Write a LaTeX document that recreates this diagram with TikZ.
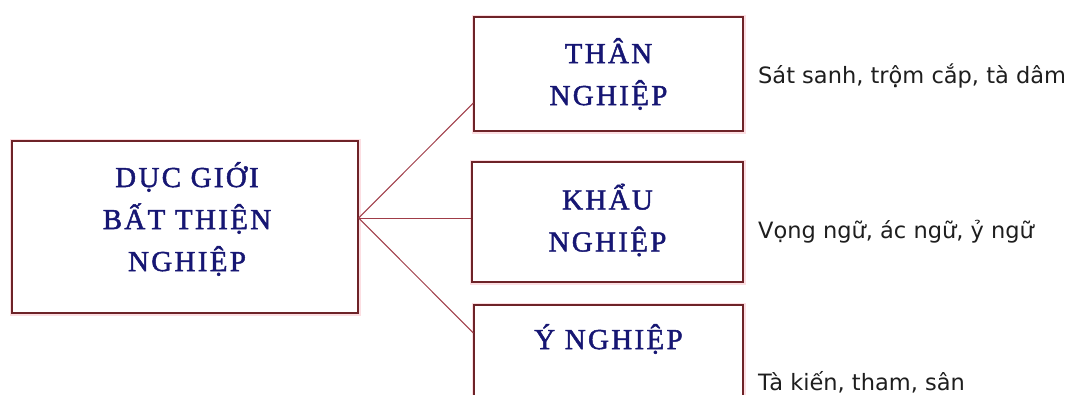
\documentclass[tikz,border=0pt]{standalone}
\usepackage{fontspec}
\setmainfont{Liberation Serif}
\newfontfamily\sidefont{DejaVu Sans}
\definecolor{boxline}{RGB}{110,35,40}
\definecolor{glow}{RGB}{252,222,226}
\definecolor{connc}{RGB}{160,60,72}
\definecolor{navy}{RGB}{22,22,115}
\definecolor{sidetext}{RGB}{30,30,30}
\newcommand\bxfont{\fontsize{29}{42}\selectfont\addfontfeatures{LetterSpace=8,FakeBold=1.6}}
\begin{document}
\begin{tikzpicture}[x=1pt,y=-1pt,
  box/.style={draw=boxline, line width=1.3pt, fill=white,
    preaction={draw=glow, line width=5pt}, inner sep=0pt},
  boxtext/.style={inner sep=0pt, align=center, font=\bxfont, text=navy},
  connector/.style={draw=connc, line width=1pt},
  side/.style={anchor=base west, inner sep=0pt,
    font=\sidefont\fontsize{22.5}{26}\selectfont, text=sidetext}]
\useasboundingbox (0,0) rectangle (1076,394);
\clip (0,0) rectangle (1076,394);
\fill[white] (0,0) rectangle (1076,394);

\node[box, minimum width=346, minimum height=172] (L) at (185,227) {};
\node[boxtext] (Lt) at (187,219) {DỤC GIỚI\\BẤT THIỆN\\NGHIỆP};
\node[box, minimum width=269, minimum height=114] (T) at (608.5,74) {};
\node[boxtext] (Tt) at (608.5,74) {THÂN\\NGHIỆP};
\node[box, minimum width=271, minimum height=120] (M) at (607.5,222) {};
\node[boxtext] (Mt) at (607.5,220) {KHẨU\\NGHIỆP};
\node[box, minimum width=269, minimum height=150] (B) at (608.5,380) {};
\node[boxtext] (Bt) at (608.5,339) {Ý NGHIỆP};

\draw[connector] ([yshift=9pt]L.east) -- ([yshift=-29pt]T.west);
\draw[connector] ([yshift=9pt]L.east) -- ([yshift=4pt]M.west);
\draw[connector] ([yshift=9pt]L.east) -- ([yshift=47pt]B.west);

\node[side] (s1) at (758,83) {Sát sanh, trộm cắp, tà dâm};
\node[side] (s2) at (758,238) {Vọng ngữ, ác ngữ, ỷ ngữ};
\node[side] (s3) at (758,390) {Tà kiến, tham, sân};
\end{tikzpicture}
\end{document}
